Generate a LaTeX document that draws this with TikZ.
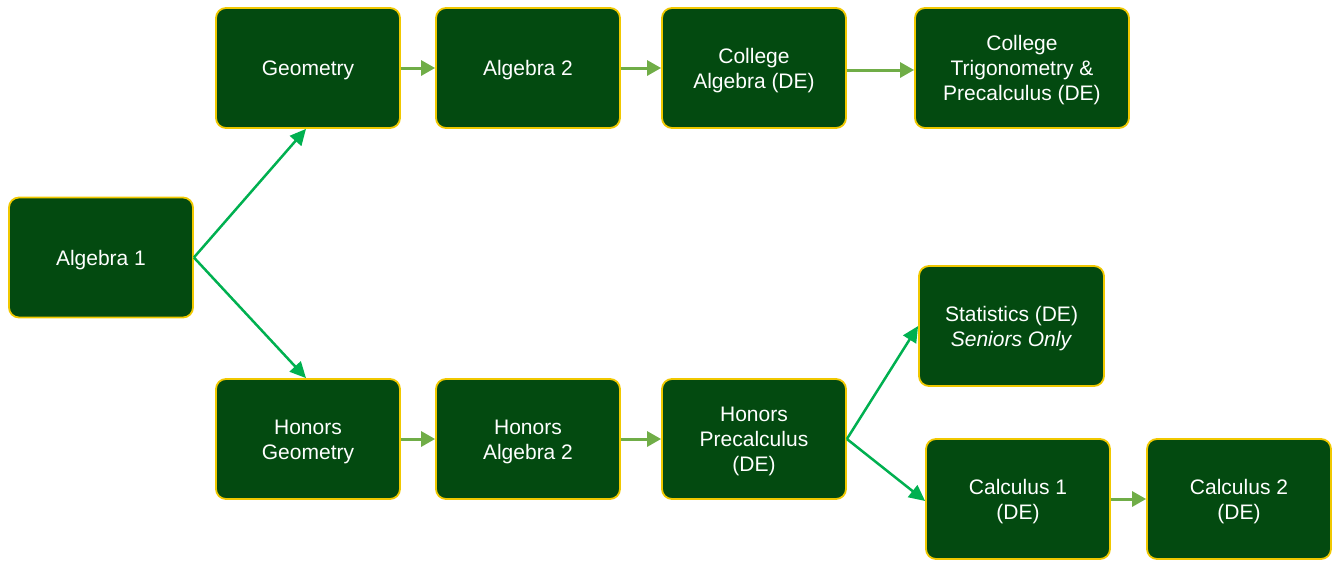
\documentclass[tikz,border=0pt]{standalone}
\usepackage{fontspec}
\setmainfont{Liberation Sans}
\usetikzlibrary{arrows.meta}
\definecolor{boxgreen}{RGB}{3,74,16}
\definecolor{boxgold}{RGB}{240,200,0}
\definecolor{arrlight}{RGB}{112,173,71}
\definecolor{arrdiag}{RGB}{0,176,80}
\begin{document}
\begin{tikzpicture}[x=1pt,y=-1pt,
  course/.style={draw=boxgold, line width=1.8pt, fill=boxgreen, rounded corners=10pt,
    minimum width=184pt, minimum height=120pt, inner sep=0pt},
  ctext/.style={text=white, align=center, font=\fontsize{21}{25}\selectfont, inner sep=0pt, yshift=-2.5pt},
  hflow/.style={draw=arrlight, line width=3pt, -{Triangle[length=14pt,width=15pt]}},
  dflow/.style={draw=arrdiag, line width=2.5pt, -{Triangle[length=16pt,width=15pt]}}]
\useasboundingbox (0,0) rectangle (1338,560);
\node[course] (alg1) at (101,257.5) {};
\node[course] (geo) at (308,68) {};
\node[course] (alg2) at (528,68) {};
\node[course] (calg) at (754,68) {};
\node[course, minimum width=214pt] (ctrig) at (1022,68) {};
\node[course] (hgeo) at (308,439) {};
\node[course] (halg2) at (528,439) {};
\node[course] (hpre) at (754,439) {};
\node[course, minimum width=185pt] (stat) at (1011.5,326) {};
\node[course] (calc1) at (1018,499) {};
\node[course] (calc2) at (1239,499) {};
\node[ctext] (talg1) at (alg1.center) {Algebra 1};
\node[ctext] (tgeo) at (geo.center) {Geometry};
\node[ctext] (talg2) at (alg2.center) {Algebra 2};
\node[ctext] (tcalg) at (calg.center) {College\\Algebra (DE)};
\node[ctext] (tctrig) at (ctrig.center) {College\\Trigonometry \&\\Precalculus (DE)};
\node[ctext] (thgeo) at (hgeo.center) {Honors\\Geometry};
\node[ctext] (thalg2) at (halg2.center) {Honors\\Algebra 2};
\node[ctext] (thpre) at (hpre.center) {Honors\\Precalculus\\(DE)};
\node[ctext] (tstat) at (stat.center) {Statistics (DE)\\\textit{Seniors Only}};
\node[ctext] (tcalc1) at (calc1.center) {Calculus 1\\(DE)};
\node[ctext] (tcalc2) at (calc2.center) {Calculus 2\\(DE)};
\draw[hflow] (geo.east) -- (alg2.west);
\draw[hflow] (alg2.east) -- (calg.west);
\draw[hflow] ([yshift=-2pt]calg.east) -- ([yshift=-2pt]ctrig.west);
\draw[hflow] (hgeo.east) -- (halg2.west);
\draw[hflow] (halg2.east) -- (hpre.west);
\draw[hflow] (calc1.east) -- (calc2.west);
\draw[dflow] (alg1.east) -- ([xshift=-2pt]geo.south);
\draw[dflow] (alg1.east) -- ([xshift=-2pt]hgeo.north);
\draw[dflow] (hpre.east) -- (stat.west);
\draw[dflow] (hpre.east) -- ([yshift=-2pt]calc1.west);
\end{tikzpicture}
\end{document}
